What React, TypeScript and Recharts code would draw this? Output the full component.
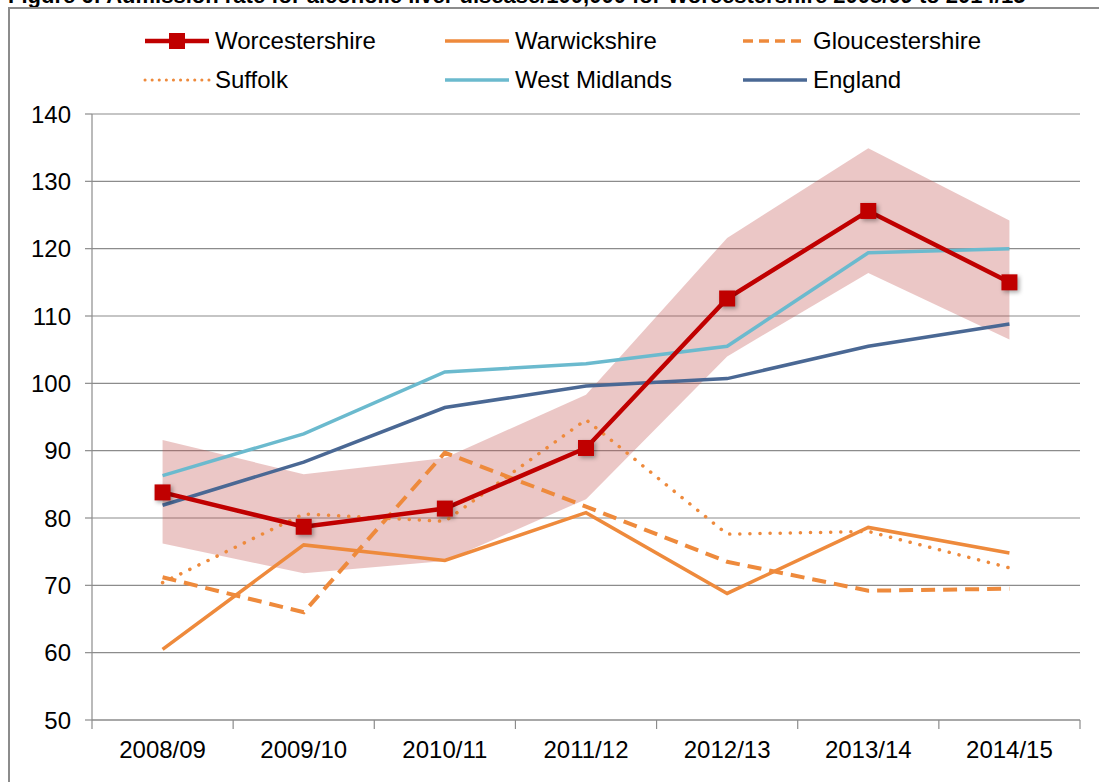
import React from 'react';
import {
  ComposedChart,
  Line,
  Area,
  XAxis,
  YAxis,
  CartesianGrid,
} from 'recharts';

// values, admissions per 100,000
const categories = ['2008/09', '2009/10', '2010/11', '2011/12', '2012/13', '2013/14', '2014/15'];
const worcestershire = [83.8, 78.7, 81.4, 90.4, 112.6, 125.6, 115.0];
const worcsLower = [76.2, 71.8, 73.6, 82.8, 104.0, 116.4, 106.5];
const worcsUpper = [91.6, 86.5, 88.9, 98.3, 121.6, 134.9, 124.2];
const warwickshire = [60.5, 76.0, 73.7, 80.8, 68.8, 78.6, 74.8];
const gloucestershire = [71.2, 66.0, 89.7, 81.7, 73.5, 69.2, 69.5];
const suffolk = [70.4, 80.6, 79.5, 94.6, 77.6, 78.0, 72.6];
const westMidlands = [86.3, 92.5, 101.7, 102.9, 105.5, 119.4, 120.0];
const england = [81.9, 88.3, 96.4, 99.6, 100.7, 105.5, 108.8];
const yTicks = [50, 60, 70, 80, 90, 100, 110, 120, 130, 140];

const data = categories.map((year, i) => ({
  year,
  band: [worcsLower[i], worcsUpper[i]],
  worcestershire: worcestershire[i],
  warwickshire: warwickshire[i],
  gloucestershire: gloucestershire[i],
  suffolk: suffolk[i],
  westMidlands: westMidlands[i],
  england: england[i],
}));

const FONT = '"Liberation Sans", Arial, sans-serif';
const RED = '#c00000';
const ORANGE = '#ee8a3c';
const TEAL = '#6bbace';
const NAVY = '#4a6894';
const GRID = '#8c8c8c';

const legendItems = [
  { name: 'Worcestershire', color: RED, width: 4.5, dash: undefined, marker: true },
  { name: 'Warwickshire', color: ORANGE, width: 3.5, dash: undefined, marker: false },
  { name: 'Gloucestershire', color: ORANGE, width: 3.5, dash: '10 6', marker: false },
  { name: 'Suffolk', color: ORANGE, width: 3, dash: '0.1 7', marker: false },
  { name: 'West Midlands', color: TEAL, width: 3.5, dash: undefined, marker: false },
  { name: 'England', color: NAVY, width: 3.5, dash: undefined, marker: false },
];

const SquareDot = (props: any) => {
  const { cx, cy } = props;
  if (cx == null || cy == null) return null;
  return (
    <rect
      x={cx - 8}
      y={cy - 8}
      width={16}
      height={16}
      fill={RED}
      style={{ filter: 'drop-shadow(2px 2px 2px rgba(0,0,0,0.35))' }}
    />
  );
};

const ChartLegend = () => (
  <div
    style={{
      position: 'absolute',
      left: 143,
      top: 27,
      display: 'grid',
      gridTemplateColumns: '300px 298px 298px',
      rowGap: 11,
      fontFamily: FONT,
      fontSize: 24,
      color: '#000',
    }}
  >
    {legendItems.map((item) => (
      <div key={item.name} style={{ display: 'flex', alignItems: 'center', height: 28 }}>
        <svg width={68} height={20} style={{ marginRight: 4 }}>
          <line
            x1={2}
            y1={10}
            x2={66}
            y2={10}
            stroke={item.color}
            strokeWidth={item.width}
            strokeDasharray={item.dash}
            strokeLinecap={item.dash === '0.1 7' ? 'round' : 'butt'}
          />
          {item.marker && <rect x={26} y={2} width={16} height={16} fill={RED} />}
        </svg>
        <span>{item.name}</span>
      </div>
    ))}
  </div>
);

const XTick = (props: any) => {
  const { x, y, payload, index } = props;
  const half = payload && payload.offset ? payload.offset : 70.5;
  return (
    <g>
      <line x1={x - half} y1={y} x2={x - half} y2={y + 9} stroke={GRID} strokeWidth={1.2} />
      {index === categories.length - 1 && (
        <line x1={x + half} y1={y} x2={x + half} y2={y + 9} stroke={GRID} strokeWidth={1.2} />
      )}
      <text x={x} y={y + 38} textAnchor="middle" fill="#000" fontSize={24} fontFamily={FONT}>
        {payload.value}
      </text>
    </g>
  );
};

export default function App() {
  return (
    <div
      style={{
        position: 'absolute',
        left: 0,
        top: 0,
        width: 1099,
        height: 782,
        overflow: 'hidden',
        background: '#fff',
      }}
    >
      <div
        style={{
          position: 'absolute',
          left: 8,
          top: -17,
          whiteSpace: 'nowrap',
          fontFamily: FONT,
          fontWeight: 'bold',
          fontSize: 22,
          color: '#000',
        }}
      >
        Figure 6: Admission rate for alcoholic liver disease/100,000 for Worcestershire 2008/09 to 2014/15
      </div>
      <div
        style={{
          position: 'absolute',
          left: 8,
          top: 7,
          width: 1200,
          height: 900,
          border: '2px solid #8c8c8c',
        }}
      />
      <div style={{ position: 'absolute', left: 0, top: 0 }}>
        <ComposedChart
          width={1099}
          height={782}
          data={data}
          margin={{ top: 114, right: 19, bottom: 12, left: 0 }}
        >
          <CartesianGrid vertical={false} stroke={GRID} strokeWidth={1.2} />
          <XAxis
            dataKey="year"
            scale="band"
            height={50}
            axisLine={{ stroke: GRID, strokeWidth: 1.2 }}
            tickLine={false}
            tick={<XTick />}
            tickSize={0}
            tickMargin={0}
            interval={0}
          />
          <YAxis
            domain={[50, 140]}
            ticks={yTicks}
            width={92}
            axisLine={{ stroke: GRID, strokeWidth: 1.2 }}
            tickLine={{ stroke: GRID, strokeWidth: 1.2 }}
            tickSize={7}
            tickMargin={14}
            tick={{ fill: '#000', fontSize: 24, fontFamily: FONT }}
          />
          <Area
            dataKey="band"
            stroke="none"
            fill="#c0504d"
            fillOpacity={0.32}
            isAnimationActive={false}
            activeDot={false}
          />
          <Line dataKey="warwickshire" stroke={ORANGE} strokeWidth={3.5} dot={false} isAnimationActive={false} />
          <Line
            dataKey="gloucestershire"
            stroke={ORANGE}
            strokeWidth={4}
            strokeDasharray="14 8"
            dot={false}
            isAnimationActive={false}
          />
          <Line
            dataKey="suffolk"
            stroke={ORANGE}
            strokeWidth={3.5}
            strokeDasharray="0.1 10"
            strokeLinecap="round"
            dot={false}
            isAnimationActive={false}
          />
          <Line dataKey="westMidlands" stroke={TEAL} strokeWidth={3.5} dot={false} isAnimationActive={false} />
          <Line dataKey="england" stroke={NAVY} strokeWidth={3.5} dot={false} isAnimationActive={false} />
          <Line
            dataKey="worcestershire"
            stroke={RED}
            strokeWidth={4.5}
            dot={<SquareDot />}
            activeDot={false}
            isAnimationActive={false}
          />
        </ComposedChart>
      </div>
      <ChartLegend />
    </div>
  );
}
